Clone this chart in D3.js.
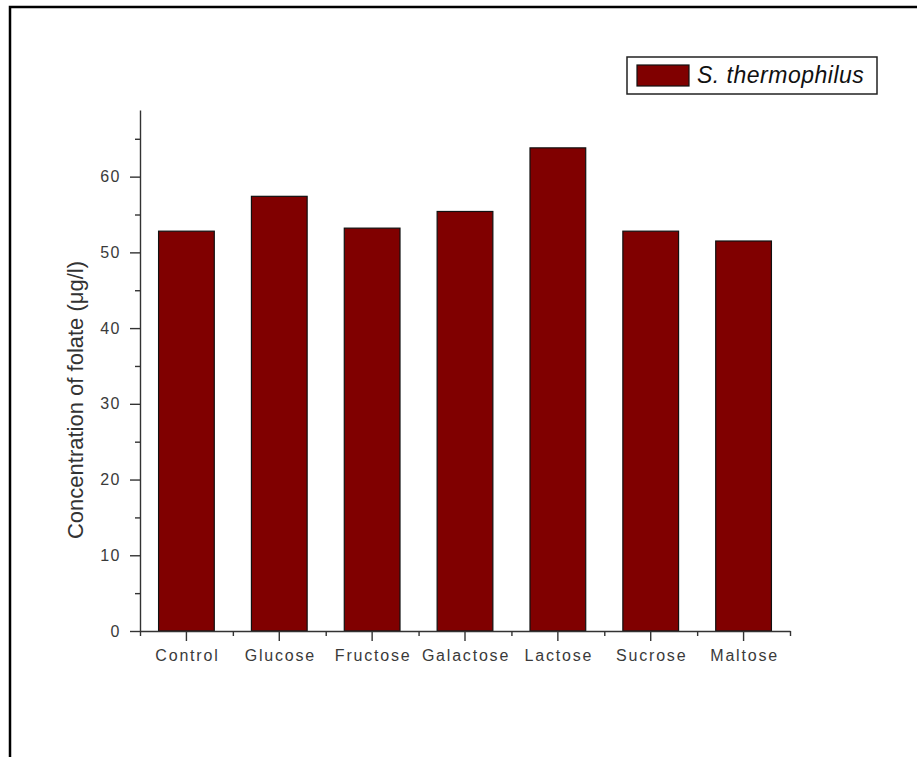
<!DOCTYPE html>
<html>
<head>
<meta charset="utf-8">
<script src="https://cdn.jsdelivr.net/npm/d3@7/dist/d3.min.js"></script>
<style>
  html, body { margin: 0; padding: 0; background: #fff; }
  svg { display: block; }
  text { font-family: "Liberation Sans", Arial, sans-serif; }
</style>
</head>
<body>
<svg id="chart" width="917" height="757"></svg>
<script>
// Folate produced by S. thermophilus on different sugar sources
const sugars = ["Control", "Glucose", "Fructose", "Galactose", "Lactose", "Sucrose", "Maltose"];
const folate = [52.8, 57.4, 53.2, 55.4, 63.8, 52.8, 51.5];
const yTicks = [0, 10, 20, 30, 40, 50, 60];
const yMinorTicks = [5, 15, 25, 35, 45, 55, 65];
const seriesName = "S. thermophilus";
const yTitle = "Concentration of folate (μg/l)";

const svg = d3.select("#chart");

const plotLeft = 140, plotRight = 790, plotBottom = 631, plotTop = 110;
const barColor = "#800000";
const axisColor = "#333";
const labelColor = "#3a3a3a";

// outer frame (top and left edges)
svg.append("path")
  .attr("d", `M10,760 L10,7 L920,7`)
  .attr("fill", "none")
  .attr("stroke", "#000")
  .attr("stroke-width", 2.5);

const x = d3.scaleBand()
  .domain(sugars)
  .range([plotLeft, plotRight])
  .paddingInner(0.4)
  .paddingOuter(0.2);

// boundaries between categories, used for minor ticks
const xEdge = d3.scaleLinear().domain([0, sugars.length]).range([plotLeft, plotRight]);

const y = d3.scaleLinear().domain([0, 68.8]).range([plotBottom, plotTop]);

// bars
svg.append("g")
  .selectAll("rect")
  .data(sugars)
  .join("rect")
  .attr("x", d => x(d))
  .attr("width", x.bandwidth())
  .attr("y", (d, i) => y(folate[i]))
  .attr("height", (d, i) => y(0) - y(folate[i]))
  .attr("fill", barColor)
  .attr("stroke", "#111")
  .attr("stroke-width", 1.2);

// y axis
const yAxis = svg.append("g")
  .attr("transform", `translate(${plotLeft},0)`)
  .call(d3.axisLeft(y).tickValues(yTicks).tickSize(10).tickSizeOuter(0).tickPadding(9).tickFormat(d3.format("d")));
svg.append("g")
  .attr("transform", `translate(${plotLeft},0)`)
  .call(d3.axisLeft(y).tickValues(yMinorTicks).tickSize(5).tickSizeOuter(0).tickFormat(""))
  .call(g => g.select(".domain").remove());

// x axis
const xAxis = svg.append("g")
  .attr("transform", `translate(0,${plotBottom})`)
  .call(d3.axisBottom(x).tickSize(10).tickSizeOuter(0).tickPadding(9));
svg.append("g")
  .attr("transform", `translate(0,${plotBottom})`)
  .call(d3.axisBottom(xEdge).tickValues(d3.range(0, sugars.length + 1)).tickSize(5).tickSizeOuter(0).tickFormat(""))
  .call(g => g.select(".domain").remove());

svg.selectAll(".domain, .tick line")
  .attr("stroke", axisColor)
  .attr("stroke-width", 1.4);

yAxis.selectAll(".tick text")
  .attr("font-size", 16)
  .attr("letter-spacing", "1.5px")
  .attr("fill", labelColor);

xAxis.selectAll(".tick text")
  .attr("font-size", 16)
  .attr("letter-spacing", "1.8px")
  .attr("dx", "1px")
  .attr("fill", labelColor);

// y axis title
svg.append("text")
  .attr("transform", "translate(83,400) rotate(-90)")
  .attr("text-anchor", "middle")
  .attr("font-size", 22)
  .attr("fill", "#333")
  .text(yTitle);

// legend
const legend = svg.append("g");
legend.append("rect")
  .attr("x", 627).attr("y", 57)
  .attr("width", 250).attr("height", 37)
  .attr("fill", "#fff")
  .attr("stroke", "#222")
  .attr("stroke-width", 1.5);
legend.append("rect")
  .attr("x", 637).attr("y", 65)
  .attr("width", 52).attr("height", 21)
  .attr("fill", barColor)
  .attr("stroke", "#111")
  .attr("stroke-width", 1.2);
legend.append("text")
  .attr("x", 697).attr("y", 83)
  .attr("font-size", 23)
  .attr("letter-spacing", "0.5px")
  .attr("font-style", "italic")
  .attr("fill", "#111")
  .text(seriesName);
</script>
</body>
</html>
